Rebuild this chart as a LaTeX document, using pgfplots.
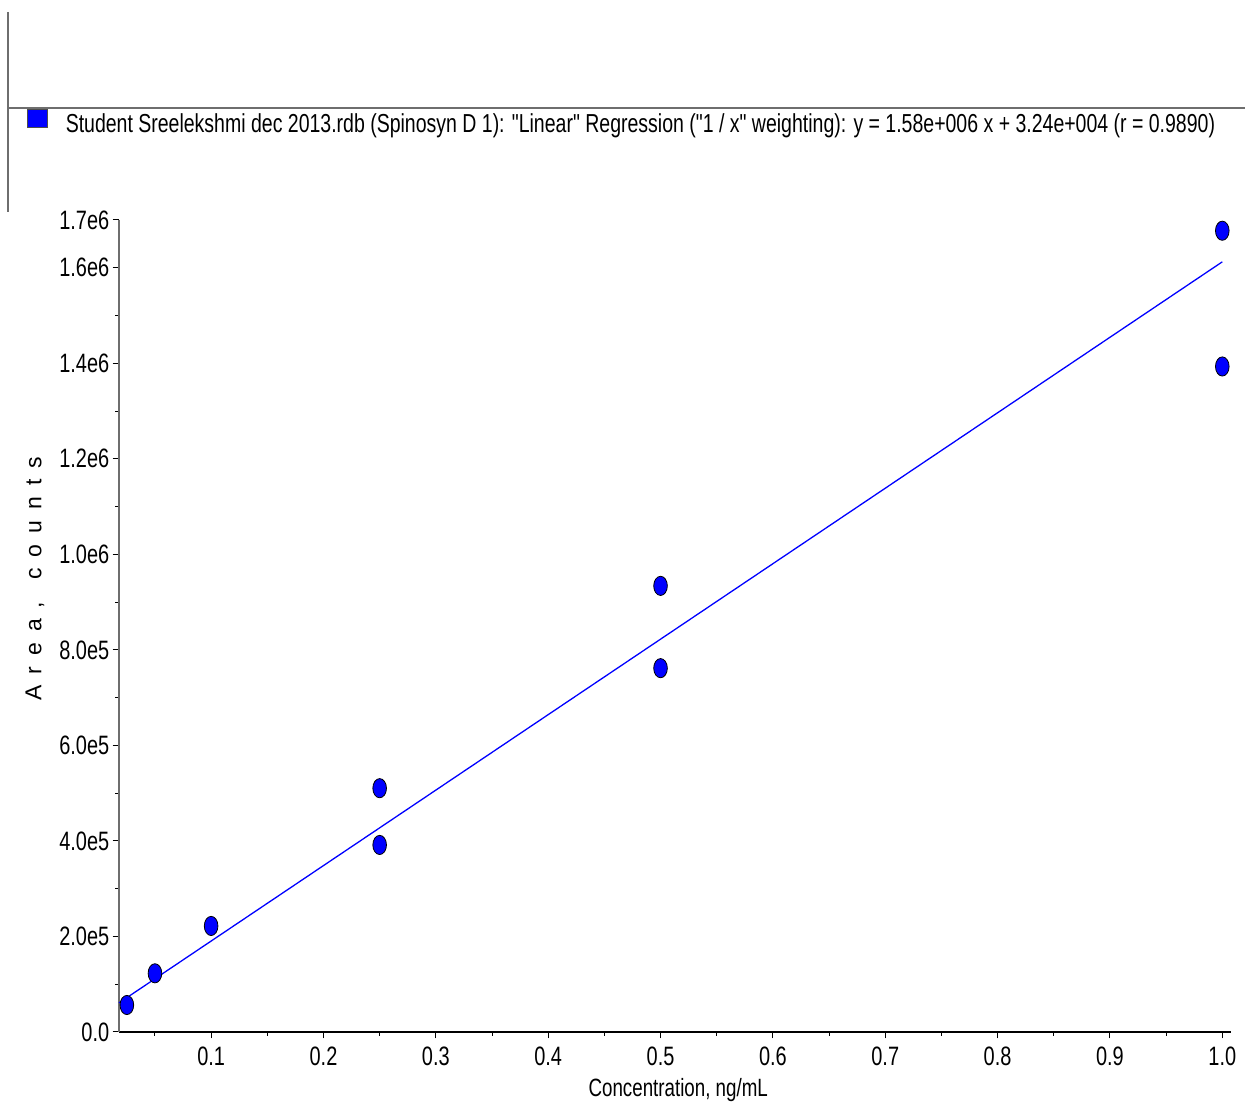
\documentclass[border=0pt]{standalone}
\usepackage{fontspec}
\setmainfont{Liberation Sans}[FakeStretch=0.75, Ligatures=TeXOff]
\newfontfamily\widesans{Liberation Sans}
\usepackage{pgfplots}
\pgfplotsset{compat=1.18}
\definecolor{ptblue}{RGB}{0,0,255}
\definecolor{axgray}{RGB}{110,110,110}

\newcommand{\ls}{\hspace{5.5pt}}

\begin{document}
\begin{tikzpicture}[x=1pt,y=1pt]
\useasboundingbox (0,0) rectangle (622.5,553);
% frame lines around the legend panel
\draw[axgray, line width=0.6pt] (4,547) -- (4,447);
\draw[axgray, line width=0.6pt] (4,499) -- (622.5,499);
\begin{axis}[
  at={(59.5pt,37pt)}, anchor=south west,
  scale only axis, width=555.85pt, height=406pt,
  xmin=0.018, xmax=1.0075, ymin=0, ymax=1.7e6,
  axis x line*=bottom, axis y line*=left,
  x axis line style={black, line width=0.6pt, -},
  y axis line style={axgray, line width=0.6pt, -},
  tick align=outside,
  tick style={black, line width=0.5pt},
  major tick length=3.2pt, minor tick length=2pt,
  xtick={0.1,0.2,0.3,0.4,0.5,0.6,0.7,0.8,0.9,1.0},
  xticklabels={0.1,0.2,0.3,0.4,0.5,0.6,0.7,0.8,0.9,1.0},
  minor xtick={0.05,0.15,0.25,0.35,0.45,0.55,0.65,0.75,0.85,0.95},
  ytick={0,2e5,4e5,6e5,8e5,1e6,1.2e6,1.4e6,1.6e6,1.7e6},
  yticklabels={0.0,2.0e5,4.0e5,6.0e5,8.0e5,1.0e6,1.2e6,1.4e6,1.6e6,1.7e6},
  minor ytick={1e5,3e5,5e5,7e5,9e5,1.1e6,1.3e6,1.5e6},
  scaled ticks=false,
  /pgf/number format/assume math mode=true,
  tick label style={font=\fontsize{13.3}{15}\selectfont},
  xticklabel style={inner sep=4pt},
  yticklabel style={inner sep=1.5pt},
  xlabel={Concentration, ng/mL},
  xlabel style={at={(axis description cs:0.503,-0.0714)}, anchor=center,
    font=\fontsize{12.5}{14}\selectfont},
  ylabel={A\ls r\ls e\ls a\ls ,\ls\ls c\ls o\ls u\ls n\ls t\ls s},
  ylabel style={at={(axis description cs:-0.0756,0.558)}, anchor=center,
    font=\widesans\fontsize{11.5}{13}\selectfont},
  legend style={draw=none, fill=none, inner sep=0pt, outer sep=0pt,
    at={(axis description cs:-0.0828,1.1367)}, anchor=north west,
    font=\fontsize{13}{15}\selectfont, nodes={inner sep=0pt},
    /tikz/every odd column/.append style={column sep=9pt}},
  legend cell align=left,
  clip=false,
]
% calibration standards (duplicate injections)
\addplot[only marks, mark=*, mark size=4.8pt,
  mark options={xscale=0.71, fill=ptblue, draw=black, line width=0.4pt},
  legend image code/.code={\draw[fill=ptblue, draw=black!70, line width=0.4pt] (0pt,-1.25pt) rectangle (10pt,7.75pt);}]
  table {
x y
0.025 56500
0.05 122900
0.1 222000
0.25 510400
0.25 391600
0.5 934000
0.5 761700
1.0 1677500
1.0 1393300
};
\addlegendentry{Student Sreelekshmi dec 2013.rdb (Spinosyn D 1): "Linear" Regression ("1 / x" weighting): y = 1.58e+006 x + 3.24e+004 (r = 0.9890)}
% fitted line y = 1.58e6 x + 3.24e4
\addplot[ptblue, line width=0.65pt, forget plot] coordinates {(0.018,60840) (1.0,1612400)};
\end{axis}
\end{tikzpicture}
\end{document}
